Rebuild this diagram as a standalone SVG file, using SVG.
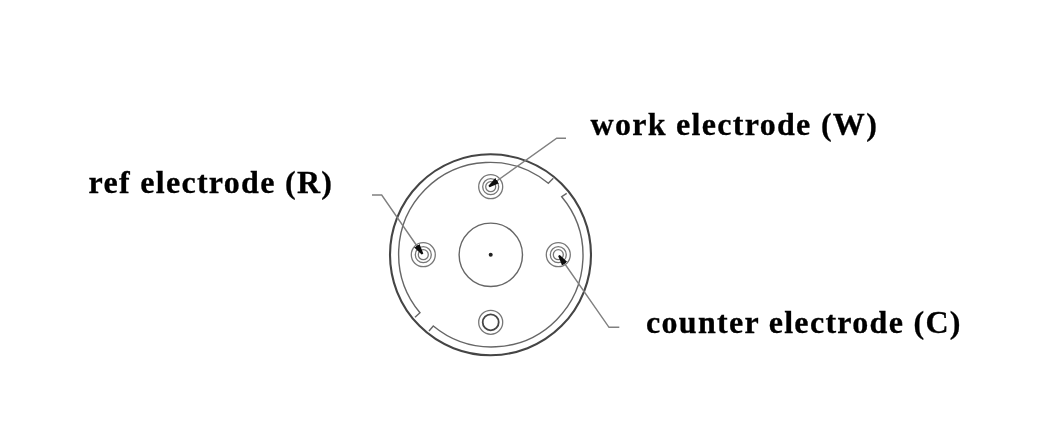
<svg xmlns="http://www.w3.org/2000/svg" width="1060" height="424" viewBox="0 0 1060 424">
<style>
.lbl{font-family:"Liberation Serif","Times New Roman",serif;font-weight:bold;font-size:32px;letter-spacing:1.3px;fill:#000;stroke:#000;stroke-width:0.3}
.ln{fill:none;stroke:#666;stroke-width:1.4}
.el{fill:none;stroke:#777;stroke-width:1.3}
.lead{fill:none;stroke:#808080;stroke-width:1.4}
</style>
<defs>
<marker id="ah" markerUnits="userSpaceOnUse" markerWidth="12" markerHeight="8" refX="10" refY="4" orient="auto"><path d="M0,0.8 L10,3 L10,5 L0,7.2 Z" fill="#111"/></marker>
<filter id="soft" x="-5%" y="-5%" width="110%" height="110%"><feGaussianBlur stdDeviation="0.35"/></filter>
</defs>
<rect width="1060" height="424" fill="#fff"/>
<g filter="url(#soft)">
<g id="body">
<circle cx="490.5" cy="254.8" r="100.5" fill="none" stroke="#444" stroke-width="2.1"/>
<path class="ln" d="M566.7,193.3 L561.7,196.7 A91.5,91.5 0 0 1 433.3,326 L429,331"/>
<path class="ln" d="M415,317.3 L420,312.7 A91.5,91.5 0 0 1 548.3,183.3 L553.3,178.3"/>
<circle class="ln" cx="490.8" cy="254.8" r="31.7"/>
<circle cx="490.7" cy="254.7" r="2" fill="#222"/>
</g>
<g id="electrode-w"><circle class="el" cx="490.7" cy="186.7" r="12"/><circle class="el" cx="490.7" cy="186.7" r="8"/><circle class="el" cx="490.7" cy="186.7" r="5"/></g>
<g id="electrode-r"><circle class="el" cx="423.3" cy="254.7" r="12"/><circle class="el" cx="423.3" cy="254.7" r="8"/><circle class="el" cx="423.3" cy="254.7" r="5"/></g>
<g id="electrode-c"><circle class="el" cx="558.3" cy="254.7" r="12"/><circle class="el" cx="558.3" cy="254.7" r="8"/><circle class="el" cx="558.3" cy="254.7" r="5"/></g>
<g id="port-bottom"><circle class="el" cx="490.7" cy="322.3" r="12"/><circle cx="490.7" cy="322.3" r="8" fill="none" stroke="#444" stroke-width="1.8"/></g>
<g id="connectors">
<path class="lead" marker-end="url(#ah)" d="M566,138.3 L556.7,138.3 L489,186.5"/>
<path class="lead" marker-end="url(#ah)" d="M372,195 L381.7,195 L422.5,254"/>
<path class="lead" marker-end="url(#ah)" d="M619.3,327.3 L609,327.3 L559,255.5"/>
</g>
<g id="label-w"><text class="lbl" x="590.5" y="134.5">work electrode (W)</text></g>
<g id="label-r"><text class="lbl" x="88.5" y="193">ref electrode (R)</text></g>
<g id="label-c"><text class="lbl" x="646" y="333">counter electrode (C)</text></g>
</g>
</svg>
